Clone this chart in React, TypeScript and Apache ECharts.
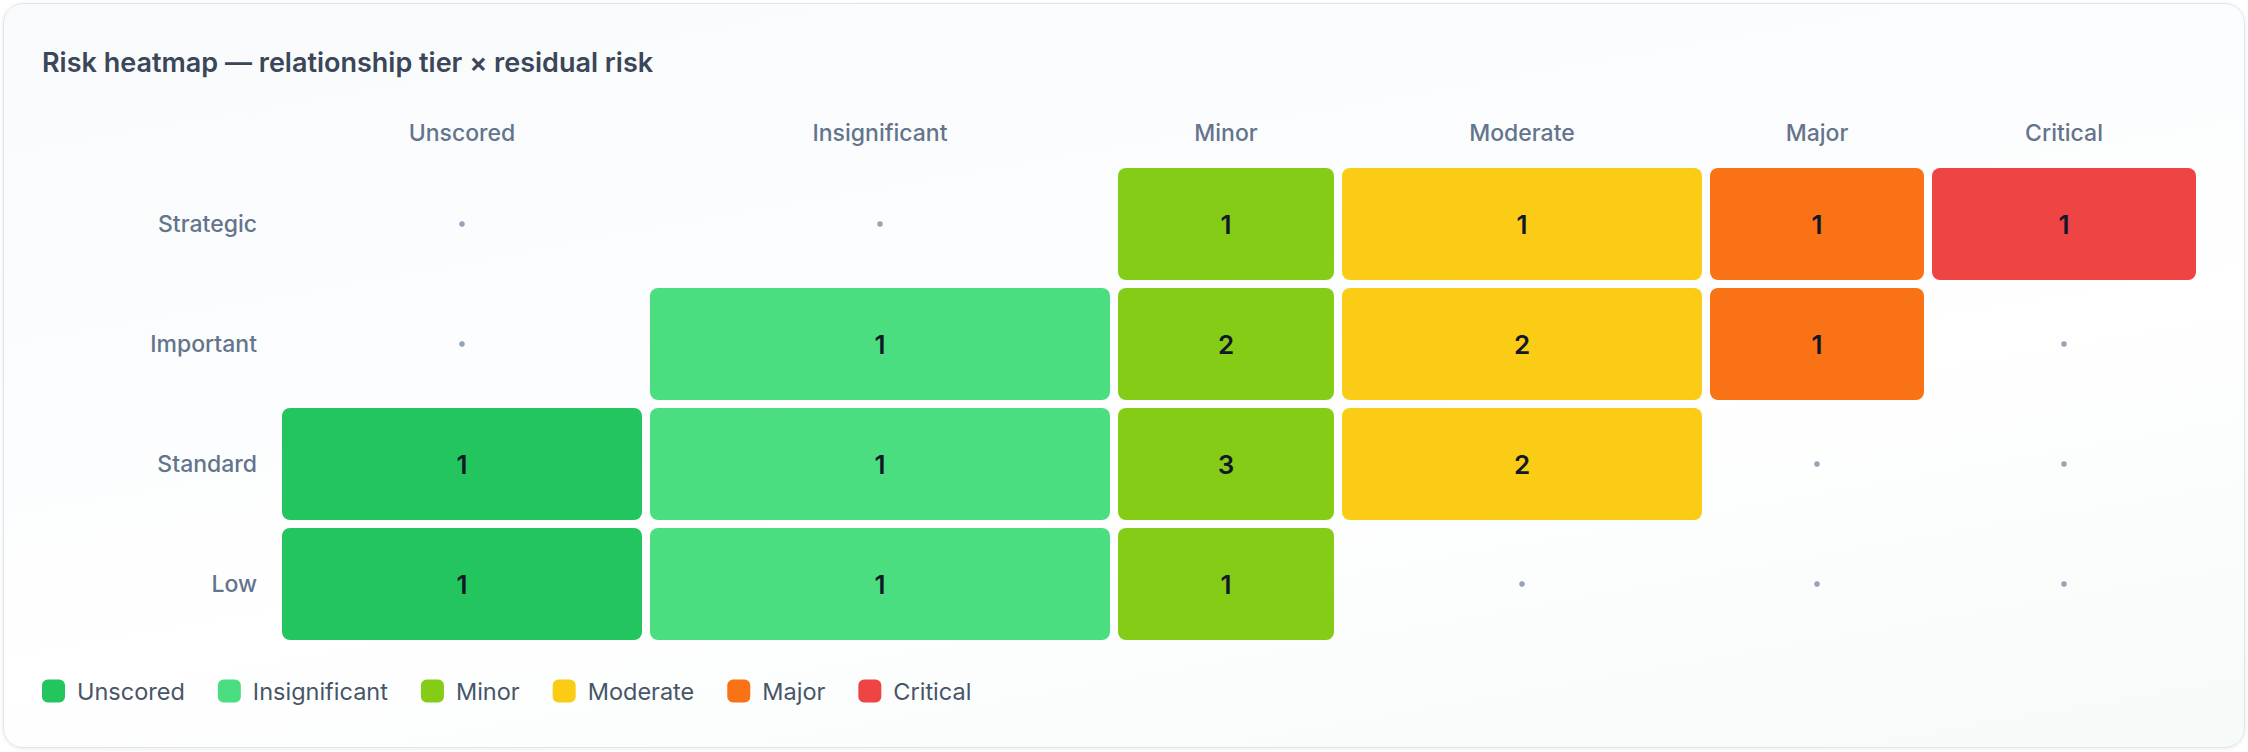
import React, { useEffect, useRef } from 'react';
import * as echarts from 'echarts';

// rows top to bottom, columns left to right
const tiers = ['Strategic', 'Important', 'Standard', 'Low'];
const levels = ['Unscored', 'Insignificant', 'Minor', 'Moderate', 'Major', 'Critical'];

// counts per residual risk level, one entry per tier (null = no vendors)
const unscored = [null, null, 1, 1];
const insignificant = [null, 1, 1, 1];
const minor = [1, 2, 3, 1];
const moderate = [1, 2, 2, null];
const major = [1, 1, null, null];
const critical = [1, null, null, null];

const levelCounts: (number | null)[][] = [unscored, insignificant, minor, moderate, major, critical];

const levelColors = ['#22c55e', '#4ade80', '#84cc16', '#facc15', '#f97316', '#ef4444'];

// relative column widths (the grid columns are not equal)
const colWidths = [368, 468, 224, 368, 222, 272];
const colStart = colWidths.map((_, i) => colWidths.slice(0, i).reduce((a, b) => a + b, 0));
const colCenter = colWidths.map((w, i) => colStart[i] + w / 2);
const total = colWidths.reduce((a, b) => a + b, 0);

const FONT = 'Inter, "Noto Sans", sans-serif';
const GAP = 4;

const App = () => {
  const chartRef = useRef<HTMLDivElement>(null);

  useEffect(() => {
    if (!chartRef.current) return;
    const chart = echarts.init(chartRef.current, null, { renderer: 'svg' });

    const cellSeries = levels.map((name, col) => ({
      name,
      type: 'custom',
      itemStyle: { color: levelColors[col] },
      encode: { x: 0, y: 1 },
      data: levelCounts[col]
        .map((v, row) => (v == null ? null : [colCenter[col], row, v, col]))
        .filter((d) => d !== null),
      renderItem: (params: any, api: any) => {
        const c = api.value(3);
        const row = api.value(1);
        const p0 = api.coord([colStart[c], row]);
        const p1 = api.coord([colStart[c] + colWidths[c], row]);
        const h = api.size([0, 1])[1];
        const x = p0[0] + GAP;
        const y = p0[1] - h / 2 + GAP;
        const w = p1[0] - p0[0] - GAP * 2;
        const hh = h - GAP * 2;
        return {
          type: 'group',
          children: [
            {
              type: 'rect',
              shape: { x, y, width: w, height: hh, r: 8 },
              style: { fill: levelColors[c] },
            },
            {
              type: 'text',
              style: {
                text: String(api.value(2)),
                x: x + w / 2,
                y: y + hh / 2,
                align: 'center',
                verticalAlign: 'middle',
                fontSize: 26,
                fontWeight: 600,
                fontFamily: FONT,
                fill: '#111827',
              },
            },
          ],
        };
      },
    }));

    const emptyCells: number[][] = [];
    levelCounts.forEach((vals, col) =>
      vals.forEach((v, row) => {
        if (v == null) emptyCells.push([colCenter[col], row]);
      })
    );

    const option = {
      animation: false,
      title: {
        text: 'Risk heatmap — relationship tier × residual risk',
        left: 42,
        top: 49,
        padding: 0,
        textStyle: { fontSize: 27, fontWeight: 600, color: '#3b4658', fontFamily: FONT },
      },
      legend: {
        data: levels,
        left: 42,
        top: 679,
        padding: 0,
        icon: 'roundRect',
        itemWidth: 23,
        itemHeight: 23,
        itemGap: 33,
        selectedMode: false,
        textStyle: { fontSize: 23.5, color: '#475569', fontFamily: FONT, padding: [0, 0, 0, 7] },
      },
      grid: {
        left: 278,
        top: 164,
        width: 1922,
        height: 480,
        outerBoundsMode: 'none',
      },
      xAxis: {
        type: 'value',
        position: 'top',
        min: 0,
        max: total,
        axisLine: { show: false },
        axisTick: { show: false },
        splitLine: { show: false },
        axisLabel: {
          customValues: colCenter,
          formatter: (v: number) => levels[colCenter.findIndex((c) => Math.abs(c - v) < 1e-6)] ?? '',
          margin: 20,
          fontSize: 23,
          fontWeight: 500,
          color: '#64748b',
          fontFamily: FONT,
        },
      },
      yAxis: {
        type: 'category',
        data: tiers,
        inverse: true,
        axisLine: { show: false },
        axisTick: { show: false },
        splitLine: { show: false },
        axisLabel: {
          margin: 21,
          fontSize: 23,
          fontWeight: 500,
          color: '#64748b',
          fontFamily: FONT,
        },
      },
      series: [
        ...cellSeries,
        {
          name: 'empty',
          type: 'custom',
          data: emptyCells,
          encode: { x: 0, y: 1 },
          renderItem: (params: any, api: any) => {
            const p = api.coord([api.value(0), api.value(1)]);
            return {
              type: 'circle',
              shape: { cx: p[0], cy: p[1], r: 2.8 },
              style: { fill: '#94a3b8' },
            };
          },
        },
      ],
    };

    chart.setOption(option as any);
    return () => chart.dispose();
  }, []);

  return (
    <div style={{ position: 'fixed', left: 0, top: 0, width: 2248, height: 752, background: '#ffffff' }}>
      <div
        style={{
          position: 'absolute',
          left: 3,
          top: 3,
          width: 2240,
          height: 743,
          borderRadius: 20,
          border: '1px solid #dfe5ee',
          background: 'linear-gradient(170deg, #f8fafc 0%, #fcfdfe 40%, #ffffff 60%, #f6faf9 100%)',
          boxShadow: '0 1px 4px rgba(15,23,42,0.08)',
        }}
      />
      <div ref={chartRef} style={{ position: 'absolute', left: 0, top: 0, width: 2248, height: 752 }} />
    </div>
  );
};

export default App;
